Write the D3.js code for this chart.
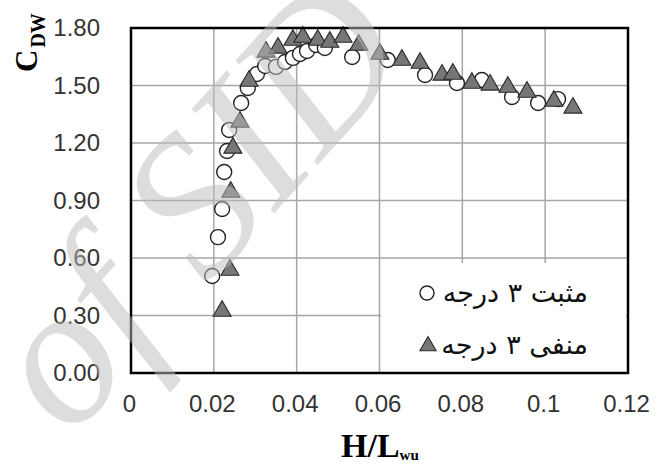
<!DOCTYPE html>
<html><head><meta charset="utf-8">
<script src="https://cdn.jsdelivr.net/npm/d3@7"></script>
<style>html,body{margin:0;padding:0;background:#fff;}svg{display:block;}</style>
</head><body>
<script>
// ---- data ----
const posX = [0.0196,0.0210,0.0220,0.0225,0.0232,0.0237,0.0266,0.0282,0.0304,0.0324,0.0350,0.0372,0.0391,0.0408,0.0425,0.0447,0.0468,0.0534,0.0620,0.0710,0.0787,0.0847,0.0920,0.0983,0.1031];
const posY = [0.506,0.709,0.856,1.049,1.158,1.268,1.409,1.487,1.560,1.602,1.597,1.623,1.644,1.664,1.680,1.711,1.696,1.649,1.633,1.555,1.513,1.529,1.440,1.409,1.429];
const negX = [0.0220,0.0239,0.0241,0.0246,0.0263,0.0285,0.0326,0.0355,0.0391,0.0415,0.0451,0.0480,0.0512,0.0550,0.0601,0.0654,0.0698,0.0751,0.0777,0.0823,0.0867,0.0910,0.0956,0.1021,0.1067];
const negY = [0.323,0.537,0.944,1.174,1.310,1.523,1.675,1.696,1.737,1.753,1.737,1.727,1.753,1.711,1.664,1.633,1.617,1.555,1.560,1.513,1.503,1.492,1.466,1.419,1.383];
const xTicks = [0,0.02,0.04,0.06,0.08,0.1,0.12];
const xTickLabels = ["0","0.02","0.04","0.06","0.08","0.1","0.12"];
const yTicks = [0,0.3,0.6,0.9,1.2,1.5,1.8];
const yTickLabels = ["0.00","0.30","0.60","0.90","1.20","1.50","1.80"];
const seriesNames = ["مثبت ۳ درجه","منفی ۳ درجه"];
const watermark = "of SID";

const W = 665, H = 466;
const svg = d3.select("body").append("svg").attr("width", W).attr("height", H);
svg.append("rect").attr("width", W).attr("height", H).attr("fill", "#fff");

const x = d3.scaleLinear().domain([0, 0.12]).range([131, 628]);
const y = d3.scaleLinear().domain([0, 1.8]).range([373, 28]);

// grid
const grid = svg.append("g").attr("stroke", "#a6a6a6").attr("stroke-width", 1.5);
grid.selectAll("line.v").data(xTicks.slice(1, -1)).enter().append("line")
  .attr("x1", d => x(d)).attr("x2", d => x(d)).attr("y1", y(0)).attr("y2", y(1.8));
grid.selectAll("line.h").data(yTicks.slice(1, -1)).enter().append("line")
  .attr("y1", d => y(d)).attr("y2", d => y(d)).attr("x1", x(0)).attr("x2", x(0.12));

// axes via d3 axis (labels only)
const xAxis = svg.append("g").attr("transform", `translate(-2,${y(0)})`)
  .call(d3.axisBottom(x).tickValues(xTicks).tickFormat((d, i) => xTickLabels[i]).tickSize(0).tickPadding(22));
const yAxis = svg.append("g").attr("transform", `translate(${x(0)},0)`)
  .call(d3.axisLeft(y).tickValues(yTicks).tickFormat((d, i) => yTickLabels[i]).tickSize(0).tickPadding(31));
[xAxis, yAxis].forEach(a => {
  a.select(".domain").remove();
  a.selectAll("text").attr("font-family", "Liberation Sans, Arial, sans-serif").attr("font-size", 24).attr("fill", "#333");
});

// markers
const circ = posX.map((v, i) => [v, posY[i]]);
const tri = negX.map((v, i) => [v, negY[i]]);
svg.append("g").selectAll("circle").data(circ).enter().append("circle")
  .attr("cx", d => x(d[0])).attr("cy", d => y(d[1])).attr("r", 7.5)
  .attr("fill", "#fff").attr("stroke", "#222").attr("stroke-width", 1.4);
const triSym = d3.symbol().type(d3.symbolTriangle).size(140);
svg.append("g").selectAll("path").data(tri).enter().append("path")
  .attr("d", triSym).attr("transform", d => `translate(${x(d[0])},${y(d[1])})`)
  .attr("fill", "#777").attr("stroke", "#2a2a2a").attr("stroke-width", 1.1);

// legend
svg.append("rect").attr("x", 381).attr("y", 263).attr("width", 245).attr("height", 109).attr("fill", "#fff");
svg.append("circle").attr("cx", 427).attr("cy", 293).attr("r", 7)
  .attr("fill", "#fff").attr("stroke", "#222").attr("stroke-width", 1.4);
svg.append("path").attr("d", d3.symbol().type(d3.symbolTriangle).size(115)).attr("transform", "translate(428,346)")
  .attr("fill", "#777").attr("stroke", "#2a2a2a").attr("stroke-width", 1.1);
svg.selectAll("text.leg").data(seriesNames).enter().append("text")
  .attr("x", 588).attr("y", (d, i) => 302 + i * 52).attr("text-anchor", "end")
  .attr("font-family", "DejaVu Sans, sans-serif").attr("font-size", 27).attr("fill", "#111")
  .text(d => d);

// frame
svg.append("rect").attr("x", x(0)).attr("y", y(1.8)).attr("width", x(0.12) - x(0)).attr("height", y(0) - y(1.8))
  .attr("fill", "none").attr("stroke", "#000").attr("stroke-width", 2.5);

// axis titles
const yt = svg.append("text").attr("transform", "translate(37,72) rotate(-90)")
  .attr("font-family", "Liberation Serif, Times New Roman, serif").attr("font-weight", "bold").attr("fill", "#000");
yt.append("tspan").attr("font-size", 31).text("C");
yt.append("tspan").attr("font-size", 20).attr("dy", 8).attr("dx", 2).text("DW");

const xt = svg.append("text").attr("x", 341).attr("y", 457)
  .attr("font-family", "Liberation Serif, Times New Roman, serif").attr("font-weight", "bold").attr("fill", "#000");
xt.append("tspan").attr("font-size", 34).text("H/L");
xt.append("tspan").attr("font-size", 15).attr("dy", 3).attr("dx", 0).text("wu");

// watermark overlay
svg.append("text").attr("transform", "translate(70,440) rotate(-48)")
  .attr("font-family", "Liberation Serif, serif").attr("font-style", "italic").attr("font-size", 200)
  .attr("fill", "#bdbdbd").attr("opacity", 0.5).text(watermark);
</script>
</body></html>
